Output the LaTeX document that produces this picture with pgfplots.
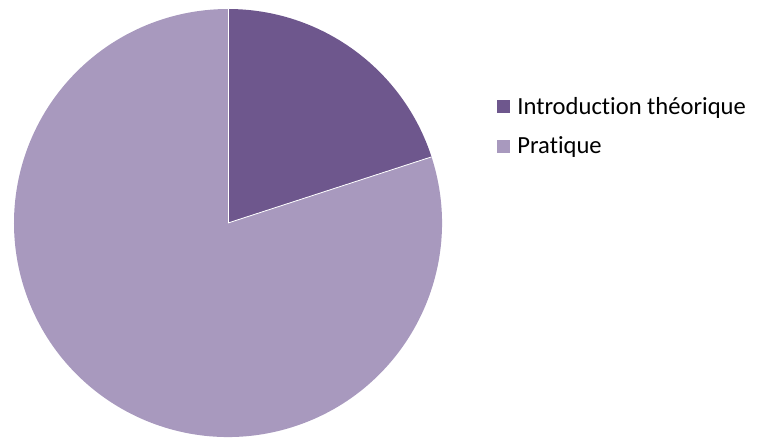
\documentclass[border=0pt]{standalone}
\usepackage{pgfplots}
\usepackage{pgfplotstable}
\pgfplotsset{compat=1.18}
\usepackage{fontspec}
\setmainfont{Carlito}[Ligatures=NoCommon]
\definecolor{darkpurple}{RGB}{110,87,141}
\definecolor{lightpurple}{RGB}{168,153,190}
\pgfplotstableread{
part value
Introduction 20
Pratique 80
}\piedata
\begin{document}
\begin{tikzpicture}
\begin{axis}[
  x=1bp, y=1bp,
  xmin=0, xmax=760, ymin=0, ymax=439,
  hide axis,
  anchor=origin, at={(0,0)},
  legend cell align=left,
  legend image code/.code={\fill[#1] (0bp,-6bp) rectangle (12bp,6bp); \path[draw=none,fill=none] (20bp,0bp);},
  legend style={at={(axis cs:497,342)}, anchor=north west, draw=none, fill=none,
    font=\fontsize{24.6bp}{29bp}\selectfont, row sep=21bp, inner sep=0pt,
    nodes={inner sep=0bp}},
]
\pgfplotstablegetelem{0}{value}\of\piedata \let\va\pgfplotsretval
\pgfplotstablegetelem{1}{value}\of\piedata \let\vb\pgfplotsretval
\pgfmathsetmacro{\total}{\va+\vb}
\pgfmathsetmacro{\aend}{90-360*(\va/\total)}
\pgfmathsetmacro{\bend}{\aend-360*(\vb/\total)}
\addlegendimage{darkpurple}
\addlegendentry{Introduction théorique}
\addlegendimage{lightpurple}
\addlegendentry{Pratique}
\fill[darkpurple] (axis cs:228,216) -- ++(90:214bp) arc[start angle=90, end angle=\aend, radius=214bp] -- cycle;
\fill[lightpurple] (axis cs:228,216) -- ++(\aend:214bp) arc[start angle=\aend, end angle=\bend, radius=214bp] -- cycle;
\draw[white, line width=0.8bp] (axis cs:228,216) -- ++(90:214bp);
\draw[white, line width=0.8bp] (axis cs:228,216) -- ++(\aend:214bp);
\end{axis}
\pgfresetboundingbox
\useasboundingbox (0,0) rectangle (760bp,439bp);
\end{tikzpicture}
\end{document}
